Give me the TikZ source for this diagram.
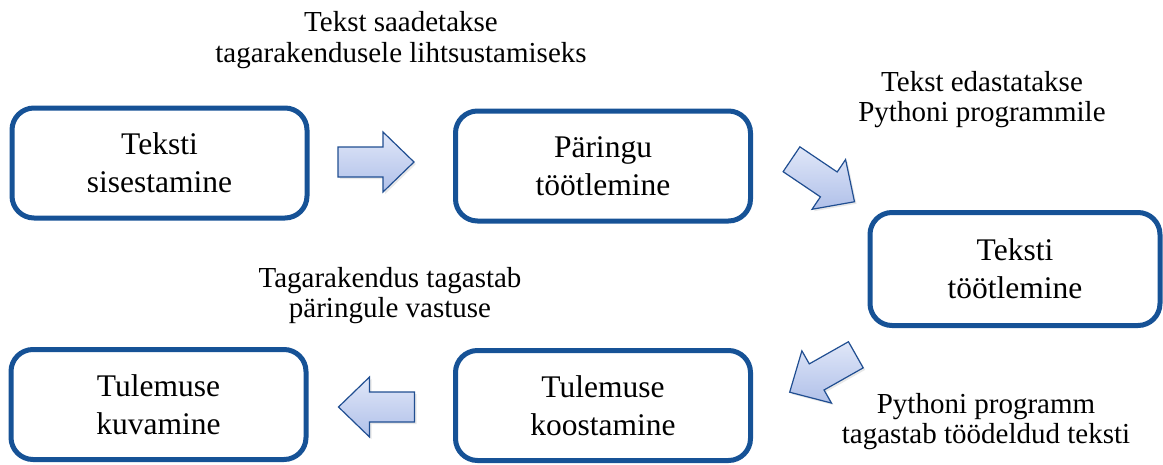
\documentclass[tikz,border=0pt]{standalone}
\usepackage{fontspec}
\setmainfont{Liberation Serif}
\newfontfamily\tnr{Liberation Serif}
\usetikzlibrary{shadows}
\definecolor{boxblue}{RGB}{22,82,150}
\definecolor{arrline}{RGB}{32,78,145}
\definecolor{arrtop}{RGB}{224,231,248}
\definecolor{arrbot}{RGB}{176,192,233}
\tikzset{
  stepbox/.style={draw=boxblue, line width=5pt, rounded corners=22pt,
    minimum width=295pt, minimum height=110pt, align=center,
    font=\tnr\fontsize{31.5}{38}\selectfont, inner sep=0pt},
  lbl/.style={align=center, font=\tnr\fontsize{29}{30.5}\selectfont, inner sep=0pt},
  pics/blockarrow/.style={code={
    \draw[arrline, line width=1.2pt, line join=miter, top color=arrtop, bottom color=arrbot,
      drop shadow={opacity=0.18, shadow xshift=2pt, shadow yshift=-2pt}]
      (-38,-15) -- (7,-15) -- (7,-30) -- (38,0) -- (7,30) -- (7,15) -- (-38,15) -- cycle;
  }}
}
\begin{document}
\begin{tikzpicture}[x=1pt,y=-1pt]
\useasboundingbox (0,0) rectangle (1163,464);
% boxes
\node[stepbox] (b1) at (159.5,163) {Teksti\\sisestamine};
\node[stepbox] (b2) at (603,166) {Päringu\\töötlemine};
\node[stepbox, minimum width=290pt, minimum height=113pt] (b3) at (1015,269) {Teksti\\töötlemine};
\node[stepbox] (b5) at (603,405.5) {Tulemuse\\koostamine};
\node[stepbox] (b4) at (158.5,404.5) {Tulemuse\\kuvamine};
% block arrows
\pic (a1) at (376,162) {blockarrow};
\pic[rotate=-34] (a2) at (823,180.5) {blockarrow};
\pic[rotate=-150.5] (a3) at (822.75,373.5) {blockarrow};
\pic[rotate=180] (a4) at (376.5,407) {blockarrow};
% labels
\node[lbl] (l1) at (401,40.3) {Tekst saadetakse\\tagarakendusele lihtsustamiseks};
\node[lbl] (l2) at (982,99.7) {Tekst edastatakse\\Pythoni programmile};
\node[lbl] (l3) at (390,295.8) {Tagarakendus tagastab\\päringule vastuse};
\node[lbl] (l4) at (986,421.7) {Pythoni programm\\tagastab töödeldud teksti};
\end{tikzpicture}
\end{document}
